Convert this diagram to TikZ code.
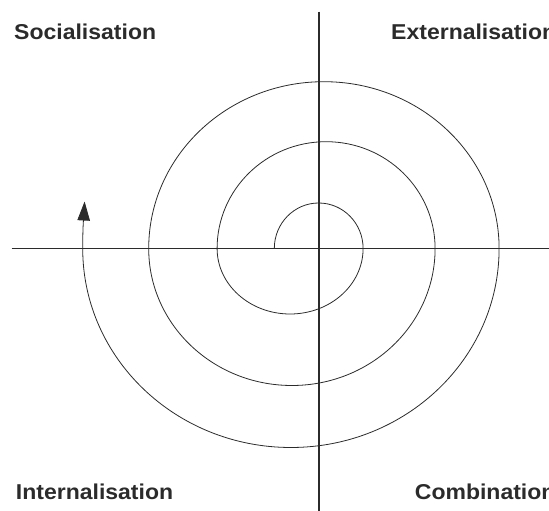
\documentclass[tikz,border=0pt]{standalone}
\usepackage{fontspec}
\setmainfont{Liberation Sans}
\usetikzlibrary{arrows.meta}
\definecolor{ink}{HTML}{2B2B2B}
\begin{document}
\begin{tikzpicture}[x=1pt,y=1pt,
  axis/.style={line width=1.8pt,draw=ink},
  spiral/.style={line width=0.8pt,draw=ink},
  label/.style={anchor=base west,inner sep=0pt,xscale=1.07,font=\bfseries\fontsize{21.5}{25}\selectfont,text=ink}]
\useasboundingbox (0,0) rectangle (549,511);
\clip (0,0) rectangle (549,511);
% axes
\coordinate (vtop) at (318.7,499.3);
\coordinate (vbot) at (318.7,0);
\coordinate (hleft) at (11.7,262.5);
\coordinate (hright) at (549,262.5);
\draw[axis] (vtop) -- (vbot);
\draw[axis] (hleft) -- (hright);
% spiral
\coordinate (start) at (274.3,262.5);
\coordinate (tip) at (84.6,309.5);
\draw[spiral,-{Triangle[length=19pt,width=12.5pt]}] (start)
  arc[start angle=180,end angle=0,x radius=44.4,y radius=45.5]
  arc[start angle=0,end angle=-180,x radius=73,y radius=65.5]
  arc[start angle=180,end angle=0,x radius=109,y radius=106.8]
  arc[start angle=0,end angle=-180,x radius=143.2,y radius=137]
  arc[start angle=180,end angle=0,x radius=175.2,y radius=166.8]
  arc[start angle=0,end angle=-180,x radius=208.2,y radius=199]
  .. controls +(0,25) and +(-0.6,-12) .. (tip);
% labels
\node[label] (soc) at (14,471) {Socialisation};
\node[label] (ext) at (391,471) {Externalisation};
\node[label] (int) at (15.7,11) {Internalisation};
\node[label] (com) at (414.7,11) {Combination};
\end{tikzpicture}
\end{document}
